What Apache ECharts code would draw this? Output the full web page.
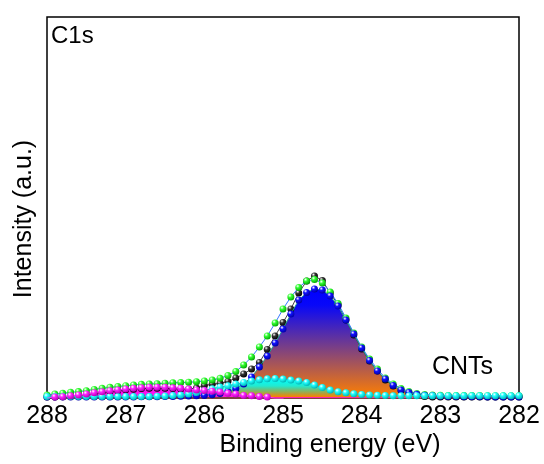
<!DOCTYPE html>
<html><head><meta charset="utf-8">
<script src="https://cdn.jsdelivr.net/npm/echarts@6/dist/echarts.min.js"></script>
<style>html,body{margin:0;padding:0;background:#fff}#c{width:544px;height:464px}</style>
</head><body><div id="c"></div>
<script>
const energy = [288.0,287.9,287.8,287.7,287.6,287.5,287.4,287.3,287.2,287.1,
287.0,286.9,286.8,286.7,286.6,286.5,286.4,286.3,286.2,286.1,
286.0,285.9,285.8,285.7,285.6,285.5,285.4,285.3,285.2,285.1,
285.0,284.9,284.8,284.7,284.6,284.5,284.4,284.3,284.2,284.1,
284.0,283.9,283.8,283.7,283.6,283.5,283.4,283.3,283.2,283.1,
283.0,282.9,282.8,282.7,282.6,282.5,282.4,282.3,282.2,282.1,282.0];
const xTicks = [288,287,286,285,284,283,282];
const rawData = [0,0,0.2,1,1.7,2.6,3.8,4.7,5.6,6.3,
7.2,7.8,8.4,8.7,8.8,8.7,8.4,8,8,9,
11.5,12.7,13.7,15.5,19,23,28,34.5,47.5,61,
74.5,88,104,116,121,116.5,104,92,77,62,
48,36,26,17,11,6.5,3.5,1.5,0.5,0,
0,0,0,0,0,0,0,0,0,0,0];
const envelope = [2,3,3.7,4.7,5.4,6.3,7.6,8.7,9.7,10.5,
11.3,12,12.7,13,13.3,13.7,14.2,14.4,14.8,15.3,
16,17,18.7,21.5,25.5,32,40,50,61,74,
88,100,109.5,116,117.5,114,105,93.5,79,64,
50,38,28,19,13,8.5,5.5,3.5,2.5,2,
1.7,1.5,1.5,1.4,1.4,1.4,1.3,1.3,1.3,1.3,1.3];
const peakSp2 = [0,0,0,0,0,0,0,0,0,0,
0.1,0.1,0.2,0.2,0.3,0.4,0.5,0.7,0.9,1.2,
1.6,2.3,3.5,5.5,8.5,13,20,30,41,54,
68,83,97,104.5,108,107,101,91,77,63,
49,36.5,26,18,11.5,7,4.5,2.7,1.8,1.2,
0.8,0.5,0.4,0.3,0.2,0.2,0.1,0.1,0.1,0,0];
const peakSp3 = [0.5,0.5,0.5,0.5,0.5,0.5,0.5,0.5,0.5,0.5,
0.5,0.5,0.5,0.5,0.8,1,1.4,2,3,4.5,
6.5,8.3,10,11.3,13,14.5,16,17.3,18.2,18.5,
18,17,16,14.5,12,9.5,7,5.3,4.2,3.2,
2.6,2.1,1.7,1.5,1.3,1.3,1.3,1.3,1.3,1.3,
1.3,1.3,1.3,1.3,1.3,1.3,1.3,1.3,1.3,1.3,1.3];
const peakCO = [-1.2,0,0.3,1.3,2,3,4.3,5.3,6.3,7,
8,8.7,9.3,9.7,9.8,9.7,9.3,8.7,8,7,
6.5,5.8,5,3.7,3,1.5,1.3,0.5,0,-1.5,
-1.5,-8,-8,-8,-8,-8,-8,-8,-8,-8,
-8,-8,-8,-8,-8,-8,-8,-8,-8,-8,
-8,-8,-8,-8,-8,-8,-8,-8,-8,-8,-8];
const background = [-1.2,-1.2,-1.2,-1.2,-1.2,-1.2,-1.2,-1.2,-1.2,-1.2,
-1.2,-1.2,-1.2,-1.2,-1.2,-1.2,-1.2,-1.2,-1.2,-1.2,
-1.2,-1.2,-1.2,-1.2,-1.2,-1.2,-1.2,-1.2,-1.2,-1.2,
-1.2,-1.2,-1.2,-1.2,-1.2,-1.2,-1.2,-1.2,-1.2,-1.2,
-1.2,-1.2,-1.2,-1.2,-1.2,-1.2,-1.2,-1.2,-1.2,-1.2,
-1.2,-1.2,-1.2,-1.2,-1.2,-1.2,-1.2,-1.2,-1.2,-1.2,-1.2];

const FONT = '"Liberation Sans", Arial, sans-serif';
const pairs = v => energy.map((e, i) => [e, v[i]]);
const G = echarts.graphic;
function ball(c, dark) {
  return new G.RadialGradient(0.35, 0.3, 0.75, [
    {offset: 0, color: '#ffffff'}, {offset: 0.35, color: c}, {offset: 1, color: dark}]);
}
function dots(name, vals, c, dark, lineColor, z) {
  return {type: 'line', name, data: pairs(vals), z, symbol: 'circle', symbolSize: 7,
    showAllSymbol: true, itemStyle: {color: ball(c, dark)},
    lineStyle: {color: lineColor, width: 1}, emphasis: {disabled: true}, animation: false};
}
function fill(vals, grad, z) {
  return {type: 'line', data: pairs(vals), z, symbol: 'none', lineStyle: {width: 0},
    areaStyle: {color: grad, opacity: 1}, emphasis: {disabled: true}, animation: false};
}
const chart = echarts.init(document.getElementById('c'), null, {renderer: 'canvas'});
chart.setOption({
  animation: false,
  grid: {left: 47, right: 25, top: 17, bottom: 66, show: true, borderColor: '#000', borderWidth: 1.5, backgroundColor: 'transparent'},
  xAxis: {type: 'value', inverse: true, min: 282, max: 288, interval: 1,
    axisLine: {show: false}, axisTick: {show: false}, splitLine: {show: false},
    axisLabel: {color: '#000', fontSize: 25, fontFamily: FONT, margin: 6,
      formatter: v => xTicks.indexOf(v) >= 0 ? String(v) : ''}},
  yAxis: {type: 'value', min: -1, max: 380, show: false, splitLine: {show: false}},
  series: [
    fill(peakSp2, new G.LinearGradient(0, 0, 0, 1, [{offset: 0, color: '#0000ff'}, {offset: 0.15, color: '#0808f8'}, {offset: 1, color: '#ff8000'}]), 1),
    fill(peakSp3, new G.LinearGradient(0, 0, 0, 1, [{offset: 0, color: 'rgba(0,255,255,1)'}, {offset: 0.4, color: 'rgba(0,255,240,0.85)'}, {offset: 1, color: 'rgba(0,255,160,0)'}]), 1),
    fill(peakCO, new G.LinearGradient(0, 0, 0, 1, [{offset: 0, color: 'rgba(255,0,255,1)'}, {offset: 0.8, color: 'rgba(255,30,210,0.95)'}, {offset: 1, color: 'rgba(255,100,80,0.8)'}]), 1),
    dots('bg', background, '#ff0000', '#b00000', '#ff4040', 3),
    dots('raw', rawData, '#333333', '#000000', '#444444', 4),
    dots('fit', envelope, '#33ff33', '#00a000', '#3377ff', 5),
    dots('sp2', peakSp2, '#1111ff', '#0000a0', '#22a090', 6),
    dots('sp3', peakSp3, '#22ffff', '#00b0b0', '#20c0c0', 7),
    dots('co', peakCO, '#ff22ff', '#b000b0', '#ff40ff', 8)
  ],
  graphic: [
    {type: 'text', x: 51, y: 24, style: {text: 'C1s', font: '24px ' + FONT, fill: '#000'}},
    {type: 'text', x: 432, y: 355, style: {text: 'CNTs', font: '25px ' + FONT, fill: '#000'}},
    {type: 'text', x: 330, y: 445, style: {text: 'Binding energy (eV)', font: '25px ' + FONT, fill: '#000', textAlign: 'center', textVerticalAlign: 'middle'}},
    {type: 'text', x: 24, y: 219, rotation: Math.PI / 2, style: {text: 'Intensity (a.u.)', font: '25px ' + FONT, fill: '#000', textAlign: 'center', textVerticalAlign: 'middle'}}
  ]
});
</script></body></html>
